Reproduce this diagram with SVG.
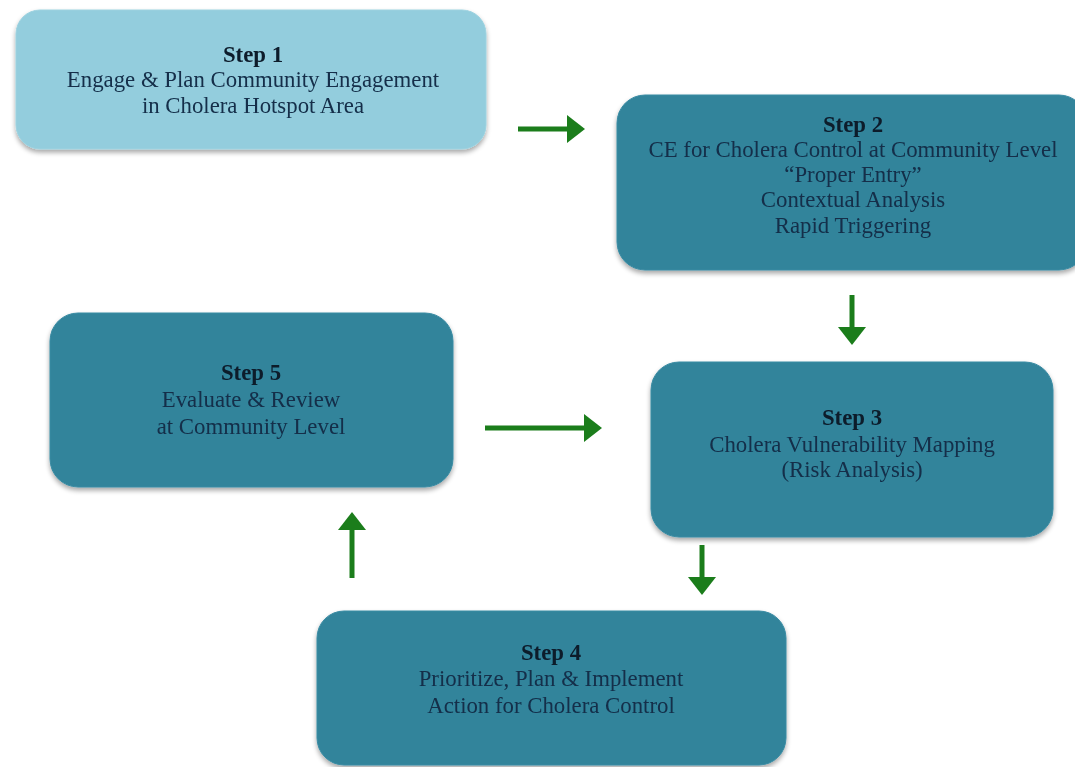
<svg xmlns="http://www.w3.org/2000/svg" width="1075" height="767" viewBox="0 0 1075 767">
<style>
.box{fill:#31849b;stroke:#3a8ba3;stroke-width:1}
.box1{fill:#93cddd;stroke:#9dd2e0;stroke-width:1}
.t{font-family:"Liberation Serif","Times New Roman",serif;font-size:22.8px;fill:#122d48;text-anchor:middle}
.h{font-weight:bold;fill:#0c1a2a}
.arr{stroke:#1b7d1b;stroke-width:5;fill:none}
</style>
<defs>
<filter id="sh" x="-10%" y="-10%" width="120%" height="130%">
<feGaussianBlur in="SourceAlpha" stdDeviation="2.5"/>
<feOffset dx="0" dy="3" result="b"/>
<feComponentTransfer><feFuncA type="linear" slope="0.35"/></feComponentTransfer>
<feMerge><feMergeNode/><feMergeNode in="SourceGraphic"/></feMerge>
</filter>
<marker id="ah" markerUnits="userSpaceOnUse" markerWidth="18" markerHeight="28" refX="0" refY="14" orient="auto" overflow="visible">
<path d="M0,0 L18,14 L0,28 Z" fill="#1b7d1b"/>
</marker>
</defs>
<rect width="1075" height="767" fill="#ffffff"/>
<g id="connectors">
<line class="arr" x1="518" y1="129" x2="567" y2="129" marker-end="url(#ah)"/>
<line class="arr" x1="852" y1="295" x2="852" y2="327" marker-end="url(#ah)"/>
<line class="arr" x1="485" y1="428" x2="584" y2="428" marker-end="url(#ah)"/>
<line class="arr" x1="702" y1="545" x2="702" y2="577" marker-end="url(#ah)"/>
<line class="arr" x1="352" y1="578" x2="352" y2="530" marker-end="url(#ah)"/>
</g>
<g id="step1" filter="url(#sh)">
<rect class="box1" x="16" y="10" width="470" height="139" rx="24"/>
<text class="t h" x="253" y="62">Step 1</text>
<text class="t" x="253" y="87">Engage &amp; Plan Community Engagement</text>
<text class="t" x="253" y="113">in Cholera Hotspot Area</text>
</g>
<g id="step2" filter="url(#sh)">
<rect class="box" x="617" y="95" width="470" height="175" rx="28"/>
<text class="t h" x="853" y="132">Step 2</text>
<text class="t" x="853" y="157">CE for Cholera Control at Community Level</text>
<text class="t" x="853" y="182">“Proper Entry”</text>
<text class="t" x="853" y="207">Contextual Analysis</text>
<text class="t" x="853" y="233">Rapid Triggering</text>
</g>
<g id="step3" filter="url(#sh)">
<rect class="box" x="651" y="362" width="402" height="175" rx="28"/>
<text class="t h" x="852" y="425">Step 3</text>
<text class="t" x="852" y="452">Cholera Vulnerability Mapping</text>
<text class="t" x="852" y="477">(Risk Analysis)</text>
</g>
<g id="step5" filter="url(#sh)">
<rect class="box" x="50" y="313" width="403" height="174" rx="28"/>
<text class="t h" x="251" y="380">Step 5</text>
<text class="t" x="251" y="407">Evaluate &amp; Review</text>
<text class="t" x="251" y="434">at Community Level</text>
</g>
<g id="step4" filter="url(#sh)">
<rect class="box" x="317" y="611" width="469" height="154" rx="27"/>
<text class="t h" x="551" y="660">Step 4</text>
<text class="t" x="551" y="686">Prioritize, Plan &amp; Implement</text>
<text class="t" x="551" y="713">Action for Cholera Control</text>
</g>
</svg>
